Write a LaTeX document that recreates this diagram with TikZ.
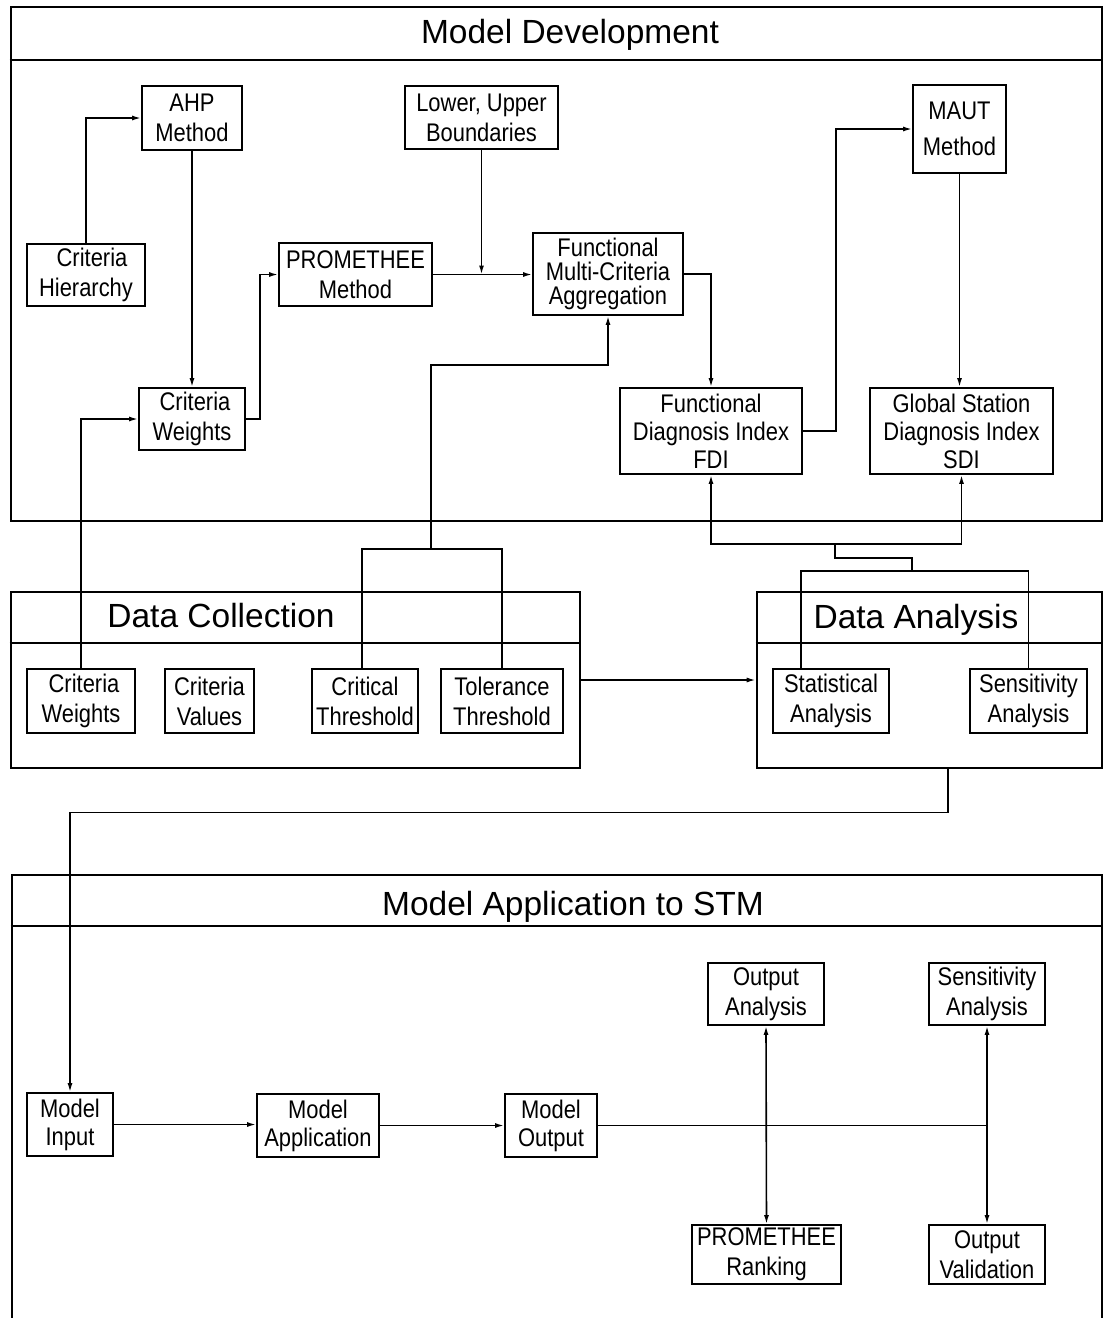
\documentclass[tikz,border=0pt]{standalone}
\usepackage{fontspec}
\setmainfont{Liberation Sans}[FakeStretch=0.86]
\newfontfamily\titlefont{Liberation Sans}
\usetikzlibrary{arrows.meta}

\tikzset{
  blk/.style={draw, line width=1.8pt, inner sep=0pt, align=center,
              font=\fontsize{25.5}{30}\selectfont},
  frame/.style={draw, line width=2.6pt, inner sep=0pt},
  hdr/.style={line width=2.6pt},
  ttl/.style={font=\titlefont\fontsize{33.5}{40}\selectfont, anchor=base, inner sep=0pt},
  wire/.style={line width=1.6pt},
  arr/.style={wire, -{Latex[length=9pt,width=5pt]}},
  dbl/.style={wire, {Latex[length=9pt,width=5pt]}-{Latex[length=9pt,width=5pt]}},
}

\begin{document}
\begin{tikzpicture}[x=1pt, y=-1pt]
\useasboundingbox (0,0) rectangle (1104,1318);
\clip (0,0) rectangle (1104,1318);
\fill[white] (0,0) rectangle (1104,1318);

% ---------- containers ----------
\node[frame, minimum width=1091pt, minimum height=514pt] (md) at (556.5,264) {};
\draw[hdr] (md.west |- 0,60) -- (md.east |- 0,60);
\node[ttl] (mdt) at (570,43) {Model Development};

\node[frame, minimum width=569pt, minimum height=176pt] (dc) at (295.5,680) {};
\draw[hdr] (dc.west |- 0,643) -- (dc.east |- 0,643);
\node[ttl] (dct) at (221,627) {Data Collection};

\node[frame, minimum width=345pt, minimum height=176pt] (da) at (929.5,680) {};
\draw[hdr] (da.west |- 0,643) -- (da.east |- 0,643);
\node[ttl] (dat) at (916,628) {Data Analysis};

\node[frame, minimum width=1090pt, minimum height=465pt] (ma) at (557,1107.5) {};
\draw[hdr] (ma.west |- 0,926) -- (ma.east |- 0,926);
\node[ttl] (mat) at (573,915) {Model Application to STM};

% ---------- model development ----------
\node[blk, minimum width=100pt, minimum height=64pt] (ahp) at (192,118) {AHP\\Method};
\node[blk, minimum width=118pt, minimum height=62pt] (ch) at (86,275) {\hspace*{12pt}Criteria\\Hierarchy};
\node[blk, minimum width=153pt, minimum height=63pt] (prom) at (355.5,274.5) {PROMETHEE\\Method};
\node[blk, minimum width=153pt, minimum height=63pt] (lub) at (481.5,117.5) {Lower, Upper\\Boundaries};
\node[blk, minimum width=150pt, minimum height=82pt,
      font=\fontsize{25.5}{24}\selectfont] (fmca) at (608,274) {Functional\\Multi-Criteria\\Aggregation};
\node[blk, minimum width=93pt, minimum height=88pt,
      font=\fontsize{25.5}{36}\selectfont] (maut) at (959.5,129) {MAUT\\Method};
\node[blk, minimum width=106pt, minimum height=62pt] (cw) at (192,419) {\hspace*{6pt}Criteria\\Weights};
\node[blk, minimum width=182pt, minimum height=86pt,
      font=\fontsize{25.5}{28}\selectfont] (fdi) at (711,431) {Functional\\Diagnosis Index\\FDI};
\node[blk, minimum width=183pt, minimum height=86pt,
      font=\fontsize{25.5}{28}\selectfont] (sdi) at (961.5,431) {Global Station\\Diagnosis Index\\SDI};

% ---------- data collection ----------
\node[blk, minimum width=108pt, minimum height=64pt] (dcw) at (81,701) {\hspace*{6pt}Criteria\\Weights};
\node[blk, minimum width=89pt, minimum height=64pt] (dcv) at (209.5,701) {Criteria\\Values};
\node[blk, minimum width=106pt, minimum height=64pt] (ct) at (365,701) {Critical\\Threshold};
\node[blk, minimum width=122pt, minimum height=64pt] (tt) at (502,701) {Tolerance\\Threshold};

% ---------- data analysis ----------
\node[blk, minimum width=116pt, minimum height=64pt] (sa) at (831,701) {Statistical\\Analysis};
\node[blk, minimum width=117pt, minimum height=64pt] (sens) at (1028.5,701) {Sensitivity\\Analysis};

% ---------- model application ----------
\node[blk, minimum width=86pt, minimum height=63pt,
      font=\fontsize{25.5}{28}\selectfont] (mi) at (70,1124.5) {Model\\Input};
\node[blk, minimum width=122pt, minimum height=63pt,
      font=\fontsize{25.5}{28}\selectfont] (mapp) at (318,1125.5) {Model\\Application};
\node[blk, minimum width=92pt, minimum height=63pt,
      font=\fontsize{25.5}{28}\selectfont] (mo) at (551,1125.5) {Model\\Output};
\node[blk, minimum width=116pt, minimum height=62pt] (oa) at (766,994) {Output\\Analysis};
\node[blk, minimum width=116pt, minimum height=62pt] (sa2) at (987,994) {Sensitivity\\Analysis};
\node[blk, minimum width=149pt, minimum height=59pt] (pr) at (766.5,1254.5) {PROMETHEE\\Ranking};
\node[blk, minimum width=116pt, minimum height=59pt] (ov) at (987,1254.5) {Output\\Validation};

% ---------- connectors: model development ----------
\draw[arr] (ch.north) |- (ahp.west);
\draw[arr] (ahp.south) -- (ahp.south |- cw.north);
\draw[arr] (cw.east) -- ++(14,0) |- (prom.west);
\draw[arr] (prom.east) -- (prom.east -| fmca.west);
\draw[arr] (lub.south) -- (lub.south |- prom.east);
\draw[arr] (fmca.east) -| (fdi.north);
\draw[arr] (fdi.east) -- ++(33,0) |- (maut.west);
\draw[arr] (maut.south) -- (maut.south |- sdi.north);

% thresholds feed the aggregation
\coordinate (tbar) at (431,549);
\coordinate (tup) at (431,365);
\draw[wire] ([xshift=-3pt]ct.north) |- (tbar -| tt.north) -- (tt.north);
\draw[arr] (tbar) -- (tup) -| (fmca.south);

% criteria weights from data collection
\draw[arr] (dcw.north) |- (cw.west);

% data analysis feeds both indices
\coordinate (fork) at (835,543);
\coordinate (dabar) at (912,571);
\draw[dbl] (fdi.south) -- ++(0,69) -| (sdi.south);
\draw[wire] (fork) -- (835,558) -- (912,558) -- (dabar);
\draw[wire] ([xshift=-30pt]sa.north) |- (dabar -| sens.north) -- (sens.north);

% data collection to data analysis
\draw[arr] (dc.east) -- (da.west);

% data analysis to model input
\draw[arr] ([xshift=18.5pt]da.south) -- ++(0,43) -| (mi.north);

% ---------- connectors: model application ----------
\draw[arr] (mi.east) -- (mi.east -| mapp.west);
\draw[arr] (mapp.east) -- (mapp.east -| mo.west);
\draw[wire] (mo.east) -- (mo.east -| sa2.south);
\draw[dbl] (oa.south) -- (pr.north);
\draw[dbl] (sa2.south) -- (ov.north);
\end{tikzpicture}
\end{document}
